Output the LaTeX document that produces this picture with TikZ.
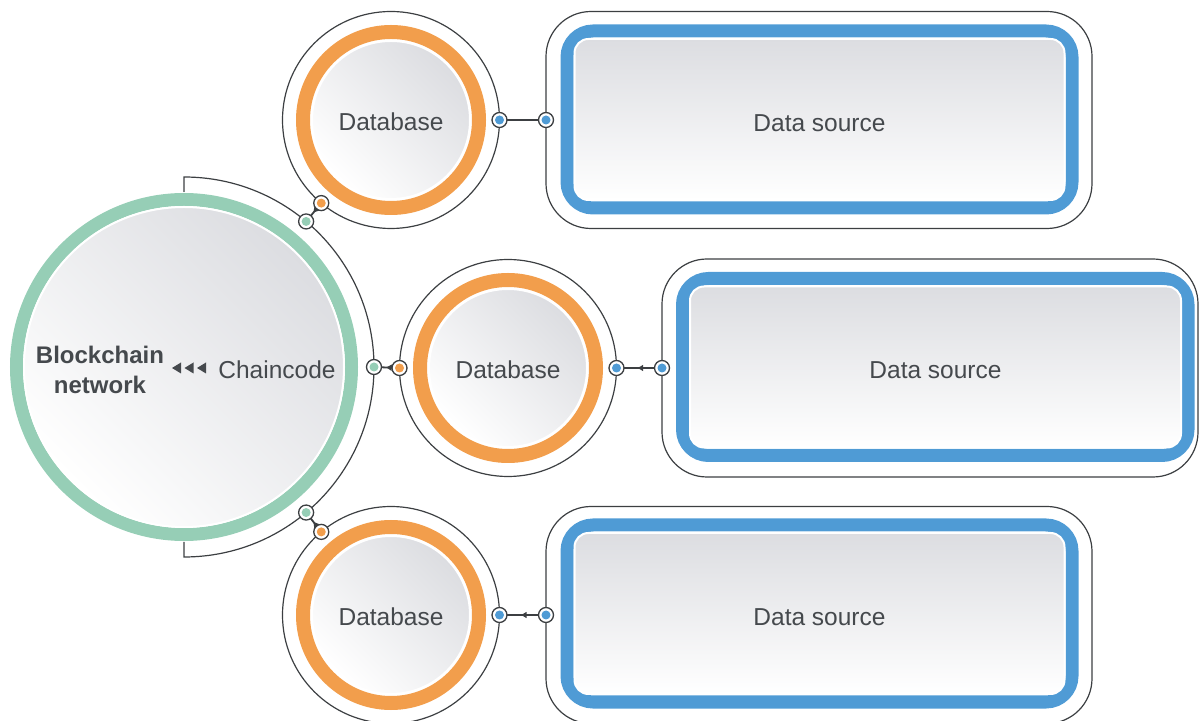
\documentclass[tikz,border=0pt]{standalone}
\usepackage{fontspec}
\setmainfont{Liberation Sans}
\usetikzlibrary{arrows.meta,decorations.markings}
\definecolor{orng}{HTML}{F29E4C}
\definecolor{grn}{HTML}{96CEB6}
\definecolor{blu}{HTML}{4F9BD5}
\definecolor{linec}{HTML}{3C3F42}
\definecolor{textc}{HTML}{45494D}
\definecolor{greyc}{HTML}{DCDDE1}
\newcommand{\lowered}[2]{\raisebox{-#1}[\height][\depth]{#2}}
\begin{document}
\begin{tikzpicture}[x=1pt,y=1pt,
  outline/.style={draw=linec, line width=1.2pt},
  ringouter/.style={circle, outline, inner sep=0pt, outer sep=0pt, minimum size=217pt},
  disc/.style={circle, inner sep=0pt, outer sep=0pt, draw=white, line width=2pt,
     top color=greyc, bottom color=white, shading angle=-45,
     text=textc, font=\fontsize{24.5}{29}\selectfont},
  boxouter/.style={rectangle, outline, rounded corners=45pt, inner sep=0pt, outer sep=0pt},
  band/.style={rectangle, draw=blu, line width=13pt, rounded corners=26pt, inner sep=0pt},
  boxinner/.style={rectangle, draw=white, line width=2pt, rounded corners=14pt, inner sep=0pt,
     top color=greyc, bottom color=white, text=textc, font=\fontsize{24.5}{29}\selectfont,
     minimum width=490pt, minimum height=161pt},
  joint/.style={circle, draw=linec, fill=white, line width=1.3pt, minimum size=15pt,
     inner sep=0pt, outer sep=0pt,
     path picture={\fill[#1] (path picture bounding box.center) circle (4.5pt);}},
  conn/.style={draw=linec, line width=1.8pt},
  midarrow/.style={postaction={decorate}, decoration={markings,
     mark=at position 0.55 with {\arrow{Triangle[length=5.5pt,width=6pt]}}}}
]
\path[use as bounding box, clip] (0,0) rectangle (1199,720);

% ---------- Blockchain network ----------
\node[circle, inner sep=0pt, outer sep=0pt, minimum size=380pt] (arcc) at (184,353) {};
\draw[outline] (184,528) -- (arcc.north) arc[start angle=90, end angle=-90, radius=190pt] -- (184,178);
\draw[grn, line width=13pt] (184,353) circle (167.5pt);
\node[disc, minimum size=320pt] (bc) at (184,353) {};
\node[text=textc, font=\fontsize{24}{30}\selectfont\bfseries, align=center] (bctext) at (100,350) {Blockchain\\network};
\fill[textc] (172,352) -- (181,357.5) -- (181,346.5) -- cycle;
\fill[textc] (184.5,352) -- (193.5,357.5) -- (193.5,346.5) -- cycle;
\fill[textc] (197,352) -- (206,357.5) -- (206,346.5) -- cycle;
\node[text=textc, font=\fontsize{24.5}{29}\selectfont] (cc) at (277,350) {Chaincode};

% ---------- Databases ----------
\foreach \n/\px/\py in {1/391/600, 2/508/352, 3/391/105}{
  \node[ringouter] (db\n o) at (\px,\py) {};
  \draw[orng, line width=14pt] (\px,\py) circle (88pt);
  \node[disc, minimum size=158pt] (db\n) at (\px,\py) {\lowered{2pt}{Database}};
}

% ---------- Data sources ----------
\node[boxouter, minimum width=546pt, minimum height=217pt] (ds1o) at (819,600) {};
\node[band, minimum width=505pt, minimum height=177pt] (ds1b) at (819.5,600.5) {};
\node[boxinner] (ds1) at (819.5,600.5) {\lowered{4pt}{Data source}};

\node[boxouter, minimum width=536pt, minimum height=218pt] (ds2o) at (930,352) {};
\node[band, minimum width=505.5pt, minimum height=177pt] (ds2b) at (935.25,353) {};
\node[boxinner, minimum width=491pt] (ds2) at (935.5,353) {\lowered{3pt}{Data source}};

\node[boxouter, minimum width=546pt, minimum height=217pt] (ds3o) at (819,105) {};
\node[band, minimum width=505pt, minimum height=177pt] (ds3b) at (819.5,106.5) {};
\node[boxinner] (ds3) at (819.5,106.5) {\lowered{4pt}{Data source}};

% ---------- Joints ----------
\node[joint=grn] (g1) at (arcc.50) {};
\node[joint=grn] (g2) at (arcc.0) {};
\node[joint=grn] (g3) at (arcc.-50) {};
\node[joint=orng] (o1) at (db1o.230) {};
\node[joint=orng] (o2) at (db2o.180) {};
\node[joint=orng] (o3) at (db3o.130) {};
\node[joint=blu] (b1) at (db1o.0) {};
\node[joint=blu] (b2) at (db2o.0) {};
\node[joint=blu] (b3) at (db3o.0) {};
\node[joint=blu] (s1) at (ds1o.west) {};
\node[joint=blu] (s2) at (ds2o.west) {};
\node[joint=blu] (s3) at (ds3o.west) {};

% ---------- Connectors ----------
\draw[conn, midarrow] (o1) -- (g1);
\draw[conn, midarrow] (o2) -- (g2);
\draw[conn, midarrow] (o3) -- (g3);
\draw[conn] (s1) -- (b1);
\draw[conn, midarrow] (s2) -- (b2);
\draw[conn, midarrow] (s3) -- (b3);
\end{tikzpicture}
\end{document}
